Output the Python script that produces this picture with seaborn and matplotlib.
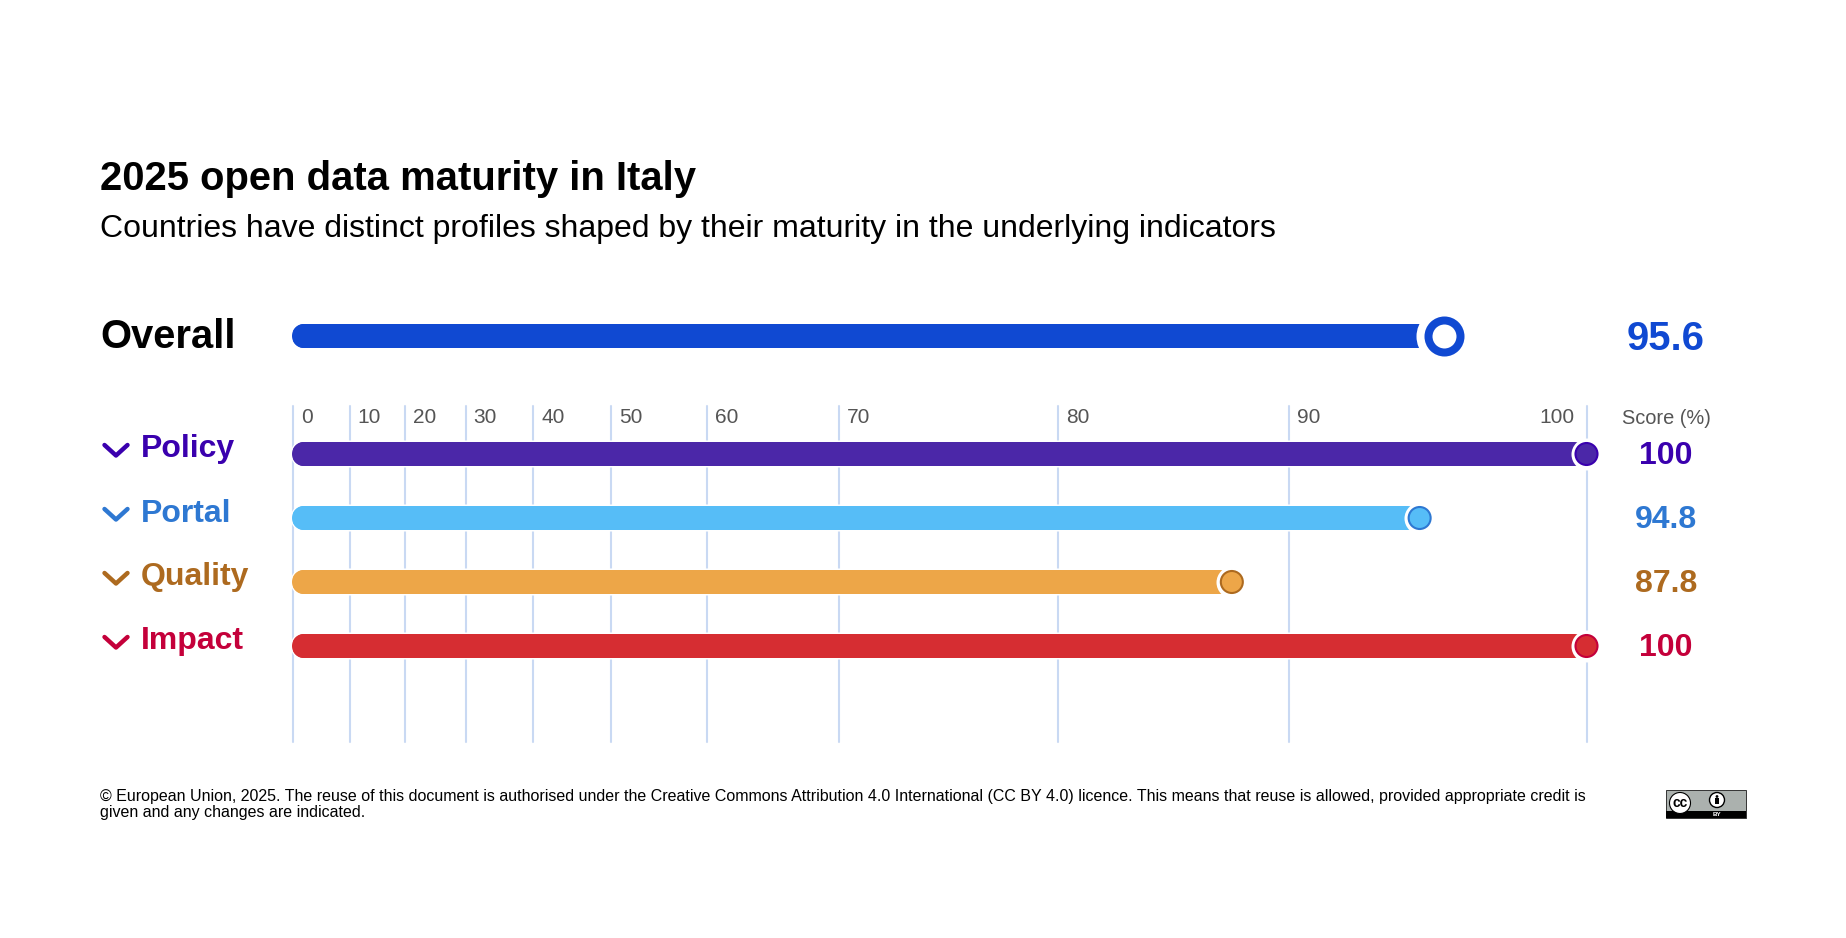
import numpy as np
import pandas as pd
import seaborn as sns
import matplotlib.pyplot as plt
from matplotlib.patches import Polygon, Rectangle, Circle
from matplotlib.transforms import IdentityTransform

sns.set_style("white")
plt.rcParams['font.family'] = ['Liberation Sans', 'DejaVu Sans']

# Data
title = "2025 open data maturity in Italy"
subtitle = "Countries have distinct profiles shaped by their maturity in the underlying indicators"
footer = ("© European Union, 2025. The reuse of this document is authorised under the Creative Commons "
          "Attribution 4.0 International (CC BY 4.0) licence. This means that reuse is allowed, provided appropriate credit is\n"
          "given and any changes are indicated.")

overall_name = ["Overall"]
overall_score = [95.6]
categories = ["Policy", "Portal", "Quality", "Impact"]
scores = [100, 94.8, 87.8, 100]
axis_ticks = [0, 10, 20, 30, 40, 50, 60, 70, 80, 90, 100]

# Colours
overall_colour = "#1049D2"
bar_colours = ["#4B27A8", "#56BDF7", "#EDA648", "#D62D32"]
text_colours = ["#3A00AE", "#2E78D2", "#AD6A1F", "#C4003A"]
grid_colour = "#C9D9F3"
tick_colour = "#555555"

# The chart's x axis is not linear: score -> share of the axis width
scale_scores = [0, 10, 20, 30, 40, 50, 60, 70, 80, 87.8, 90, 94.8, 95.6, 100]
scale_shares = [0, 0.0438, 0.0866, 0.1335, 0.1858, 0.246, 0.3198, 0.4221, 0.5917, 0.7258, 0.77, 0.871, 0.8896, 1]


def forward(x):
    return np.interp(x, scale_scores, scale_shares)


def inverse(x):
    return np.interp(x, scale_shares, scale_scores)


W, H = 1846, 938
fig = plt.figure(figsize=(W / 100, H / 100), dpi=100, facecolor="white")


def px_axes(left, top, right, bottom):
    return fig.add_axes([left / W, 1 - bottom / H, (right - left) / W, (bottom - top) / H])


def px_size(d):
    # marker area in pt^2 for a diameter in pixels
    return (d * 0.72) ** 2


def style_axis(ax):
    ax.set_xscale("function", functions=(forward, inverse))
    ax.set_xlim(0, 100)
    ax.set_xlabel("")
    ax.set_ylabel("")
    ax.set_yticks([])
    ax.tick_params(axis="x", length=0, labelbottom=False)
    ax.patch.set_alpha(0)
    sns.despine(ax=ax, left=True, bottom=True)


def round_bars(ax):
    # full round ends and a thin white outline, worked out in pixels
    fig.canvas.draw()
    for bar in ax.patches[:]:
        box = bar.get_window_extent()
        r = box.height / 2
        cy = box.y0 + r
        theta = np.linspace(-np.pi / 2, np.pi / 2, 40)
        right = np.column_stack([box.x1 - r + r * np.cos(theta), cy + r * np.sin(theta)])
        left = np.column_stack([box.x0 - 1 + r - r * np.cos(theta[::-1]), cy + r * np.sin(theta[::-1])])
        shape = Polygon(np.vstack([right, left]), closed=True, transform=IdentityTransform(),
                        facecolor="none", edgecolor="white", linewidth=2.2, zorder=2, clip_on=False)
        ax.add_patch(shape)
        bar.set_clip_path(shape)
        bar.set_zorder(3)
        # a cap in the bar colour so the 1 px left of the axis is filled too
        cap = Polygon(np.vstack([left, [[box.x0 + r + 2, box.y0], [box.x0 + r + 2, box.y1]]]),
                      closed=True, transform=IdentityTransform(), facecolor=bar.get_facecolor(),
                      edgecolor="none", zorder=3, clip_on=False)
        ax.add_patch(cap)


# Overall row
ax_top = px_axes(293, 312, 1586.5, 360)
sns.barplot(x=overall_score, y=overall_name, color=overall_colour, width=0.5,
            saturation=1, linewidth=0, ax=ax_top)
style_axis(ax_top)
ax_top.set_ylim(0.5, -0.5)
round_bars(ax_top)
sns.scatterplot(x=overall_score, y=[0], s=px_size(56), color="white", linewidth=0,
                zorder=4, clip_on=False, ax=ax_top)
sns.scatterplot(x=overall_score, y=[0], s=px_size(32), color="white", edgecolor=overall_colour,
                linewidth=5.76, zorder=5, clip_on=False, ax=ax_top)

# Indicator rows
ax = px_axes(293, 406, 1586.5, 742)
df = pd.DataFrame({"indicator": categories, "score": scores})
sns.barplot(data=df, x="score", y="indicator", hue="indicator", palette=bar_colours,
            dodge=False, legend=False, width=0.375, saturation=1, linewidth=0, ax=ax)
style_axis(ax)
ax.set_ylim(4.5, -0.75)
ax.set_xticks(axis_ticks)
ax.grid(True, axis="x", color=grid_colour, linewidth=1.5)
ax.grid(False, axis="y")
ax.set_axisbelow(True)
for line in ax.get_xgridlines():
    line.set_clip_on(False)
round_bars(ax)

rows = list(range(len(categories)))
sns.scatterplot(x=scores, y=rows, s=px_size(32), color="white", linewidth=0,
                zorder=4, clip_on=False, ax=ax)
sns.scatterplot(x=scores, y=rows, hue=categories, palette=bar_colours, s=px_size(22),
                edgecolor=text_colours, linewidth=1.5, legend=False,
                zorder=5, clip_on=False, ax=ax)

for t in axis_ticks:
    last = t == axis_ticks[-1]
    ax.annotate(str(t), (t, -0.75), xytext=(-12 if last else 8, -11.5), textcoords="offset pixels",
                ha="right" if last else "left", va="center", fontsize=15, color=tick_colour)

# Everything else is placed in pixels on a full-figure layer
layer = fig.add_axes([0, 0, 1, 1], zorder=10)
layer.set_xlim(0, W)
layer.set_ylim(H, 0)
layer.axis("off")

layer.text(100, 179.5, title, fontsize=28.8, fontweight="bold", color="black", va="center")
layer.text(100, 229.5, subtitle, fontsize=23, color="black", va="center")
layer.text(100, 337.5, overall_name[0], fontsize=28.8, fontweight="bold", color="black", va="center")
layer.text(1666, 339, f"{overall_score[0]:g}", fontsize=28.8, fontweight="bold",
           color=overall_colour, ha="center", va="center")
layer.text(1666, 418.5, "Score (%)", fontsize=14.4, color=tick_colour, ha="center", va="center")

for i, (name, val) in enumerate(zip(categories, scores)):
    row_y = 454 + 64 * i
    layer.text(141, row_y - 4.5, name, fontsize=23, fontweight="bold", color=text_colours[i], va="center")
    layer.text(1666, row_y + 2.5, f"{val:g}", fontsize=23, fontweight="bold",
               color=text_colours[i], ha="center", va="center")
    layer.plot([104.5, 116, 127.5], [row_y - 9, row_y + 1.5, row_y - 9], color=text_colours[i],
               linewidth=3.2, solid_capstyle="round", solid_joinstyle="round")

layer.text(100, 804.5, footer, fontsize=11.57, color="black", va="center", linespacing=1.05)

# CC BY badge
layer.add_patch(Rectangle((1666, 790), 80, 28, facecolor="#ABB1AE", edgecolor="#333333", linewidth=0.7))
layer.add_patch(Rectangle((1666, 811), 80, 7, facecolor="black", edgecolor="none"))
layer.add_patch(Circle((1680, 803), 10.5, facecolor="white", edgecolor="black", linewidth=0.8))
layer.text(1680, 803, "cc", fontsize=10, fontweight="bold", color="black", ha="center", va="center")
layer.add_patch(Circle((1717, 800), 7.5, facecolor="white", edgecolor="black", linewidth=1))
layer.add_patch(Circle((1717, 796.5), 1.4, facecolor="black", edgecolor="none"))
layer.add_patch(Rectangle((1715.3, 798.5), 3.4, 6, facecolor="black", edgecolor="none"))
layer.text(1717, 814.7, "BY", fontsize=4.5, fontweight="bold", color="white", ha="center", va="center")

fig.savefig("out.png", dpi=100)
